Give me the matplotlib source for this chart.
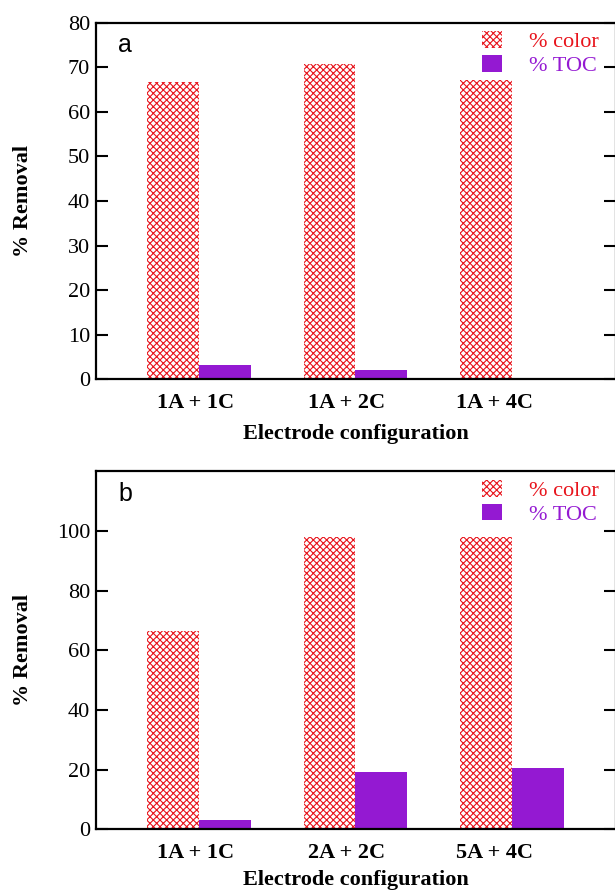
import matplotlib.pyplot as plt
import numpy as np

plt.rcParams['font.family'] = ['Liberation Serif', 'DejaVu Serif']
plt.rcParams['hatch.linewidth'] = 0.8
plt.rcParams['hatch.color'] = '#e8141c'

# panel a
configs_a = ['1A + 1C', '1A + 2C', '1A + 4C']
color_a = [66.8, 70.7, 67.2]
toc_a = [3.2, 2.1, 0.0]
yticks_a = [0, 10, 20, 30, 40, 50, 60, 70, 80]

# panel b
configs_b = ['1A + 1C', '2A + 2C', '5A + 4C']
color_b = [66.4, 98.0, 98.0]
toc_b = [3.1, 19.3, 20.4]
yticks_b = [0, 20, 40, 60, 80, 100]

red = '#e8141c'
purple = '#9419d2'
fs = 16


def panel(ax, configs, col, toc, ymax, yticks, letter, xpad):
    x = np.arange(1, len(configs) + 1)
    w = 0.332
    ax.bar(x - w / 2, col, w, color='white', edgecolor=red, hatch='xxxxx',
           linewidth=0, label='% color')
    ax.bar(x + w / 2, toc, w, color=purple, linewidth=0, label='% TOC')
    ax.set_xlim(0.34, 3.665)
    ax.set_ylim(0, ymax)
    ax.set_yticks(yticks)
    # labels sit a little left of the group centres in the original
    ax.set_xticks(x - np.array([0.025, 0.06, 0.11]))
    ax.set_xticklabels(configs, fontweight='bold', fontsize=fs)
    ax.tick_params(axis='x', length=0, pad=10)
    ax.tick_params(axis='y', direction='in', right=True, length=8.5, width=1.5,
                   labelsize=fs, pad=4)
    for s in ax.spines.values():
        s.set_linewidth(1.6)
    ax.set_ylabel('% Removal', fontweight='bold', fontsize=fs)
    ax.yaxis.set_label_coords(-0.12, 0.5)
    ax.set_xlabel('Electrode configuration', fontweight='bold', fontsize=fs, labelpad=xpad)
    ax.text(0.043, 0.918, letter, transform=ax.transAxes, fontsize=18,
            family='Liberation Sans', va='baseline', ha='left')
    ax.legend(loc='upper left', bbox_to_anchor=(0.7425, 0.976), frameon=False,
              fontsize=fs, handlelength=0.92, handleheight=0.78,
              handletextpad=1.2, labelspacing=0.12, borderaxespad=0, borderpad=0,
              labelcolor=[red, purple])


fig = plt.figure(figsize=(6.15, 8.92), dpi=100)
ax_a = fig.add_axes([95.7 / 615, 512.7 / 892, 520.3 / 615, 356.6 / 892])
ax_b = fig.add_axes([95.7 / 615, 62.7 / 892, 520.3 / 615, 358 / 892])
panel(ax_a, configs_a, color_a, toc_a, 80, yticks_a, 'a', 8)
panel(ax_b, configs_b, color_b, toc_b, 120, yticks_b, 'b', 5)

fig.savefig('out.png', dpi=100)
